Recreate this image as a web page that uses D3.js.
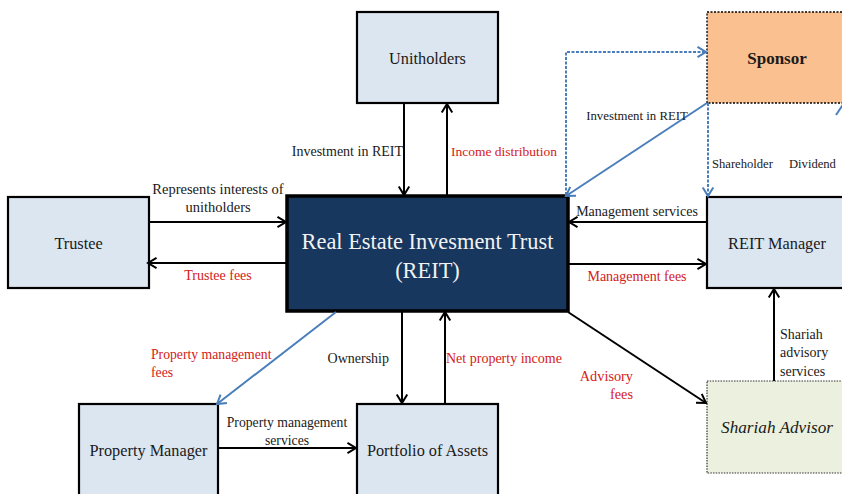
<!DOCTYPE html>
<html><head><meta charset="utf-8">
<script src="https://cdn.jsdelivr.net/npm/d3@7"></script>
<style>
html,body{margin:0;padding:0;background:#fff;overflow:hidden}
svg{display:block}
</style></head>
<body><svg id="c" width="842" height="494"></svg>
<script>
// ---- data ----
const nodeNames = ["Unitholders","Trustee","REIT","REIT Manager","Sponsor","Property Manager","Portfolio of Assets","Shariah Advisor"];
const nodeLabels = [["Unitholders"],["Trustee"],["Real Estate Invesment Trust","(REIT)"],["REIT Manager"],["Sponsor"],["Property Manager"],["Portfolio of Assets"],["Shariah Advisor"]];
const flowFrom = ["Unitholders","REIT","Trustee","REIT","REIT Manager","REIT","Property Manager","REIT","Portfolio of Assets","REIT","Shariah Advisor","REIT","Sponsor","Sponsor","Sponsor"];
const flowTo   = ["REIT","Unitholders","REIT","Trustee","REIT","REIT Manager","Portfolio of Assets","Portfolio of Assets","REIT","Property Manager","REIT Manager","Shariah Advisor","REIT","Sponsor","REIT Manager"];
const flowLabels = [
  ["Investment in REIT"],["Income distribution"],["Represents interests of","unitholders"],["Trustee fees"],
  ["Management services"],["Management fees"],["Property management","services"],["Ownership"],
  ["Net property income"],["Property management","fees"],["Shariah","advisory","services"],["Advisory","fees"],
  ["Investment in REIT"],[],["Shareholder"]
];
const flowIsFee = [false,true,false,true,false,true,false,false,true,true,false,true,false,false,false];
const extraLabels = ["Dividend"];

// ---- layout (grid scales) ----
const col = d3.scaleOrdinal().domain(nodeNames).range([357,8,287,707,707,79,357,707]);
const row = d3.scaleOrdinal().domain(nodeNames).range([12,197,196,197,12,404,404,381]);
const wid = d3.scaleOrdinal().domain(nodeNames).range([141,141,281,140,140,139,141,140]);
const hei = d3.scaleOrdinal().domain(nodeNames).range([91,91,115,91,91,100,100,92]);
const fills = d3.scaleOrdinal().domain(nodeNames).range(["#dce6f1","#dce6f1","#17375e","#dce6f1","#fac090","#dce6f1","#dce6f1","#ebf1de"]);

const FONT = "Liberation Serif";
const svg = d3.select("#c").attr("font-family",FONT);
const RED = "#d42020", INK = "#1a1a1a", BLUE = "#4a7ebb";

function box(n){return {x:col(n),y:row(n),w:wid(n),h:hei(n)};}

// nodes
nodeNames.forEach((n,i)=>{
  const b = box(n);
  const r = svg.append("rect").attr("x",b.x).attr("y",b.y).attr("width",b.w).attr("height",b.h)
    .attr("fill",fills(n)).attr("stroke","#000");
  if(n==="REIT") r.attr("stroke-width",3.5);
  else if(n==="Sponsor") r.attr("stroke-width",1.3).attr("stroke-dasharray","2,1.5");
  else if(n==="Shariah Advisor") r.attr("stroke-width",1.2).attr("stroke-dasharray","1.5,1.2").attr("stroke","#333");
  else r.attr("stroke-width",2.2);
  const lines = nodeLabels[i];
  const cx = b.x + b.w/2;
  if(n==="REIT"){
    lines.forEach((t,k)=>svg.append("text").attr("x",cx).attr("y",241+k*29).attr("text-anchor","middle")
      .attr("dominant-baseline","central").attr("font-family",FONT).attr("fill","#f2f2f2").attr("font-size",22.4).text(t));
  } else {
    const txt = svg.append("text").attr("x",cx).attr("y",b.y+46)
      .attr("text-anchor","middle").attr("dominant-baseline","central").attr("font-family",FONT).attr("fill",INK).attr("font-size",16.3).text(lines[0]);
    if(n==="Sponsor") txt.attr("font-weight","bold").attr("font-size",17);
    if(n==="Shariah Advisor") txt.attr("font-style","italic").attr("font-size",17.2);
  }
});

// arrow helper
function arrow(pts, color, dashed, width){
  const line = d3.line();
  const p = svg.append("path").attr("d",line(pts)).attr("fill","none").attr("stroke",color).attr("stroke-width",width||2);
  if(dashed) p.attr("stroke-dasharray","3,1.5");
  const a = pts[pts.length-1], b = pts[pts.length-2];
  const ang = Math.atan2(a[1]-b[1], a[0]-b[0]);
  const L = 10, s = 0.55;
  const h = [[a[0]-L*Math.cos(ang-s), a[1]-L*Math.sin(ang-s)], a, [a[0]-L*Math.cos(ang+s), a[1]-L*Math.sin(ang+s)]];
  svg.append("path").attr("d",line(h)).attr("fill","none").attr("stroke",color).attr("stroke-width",width||2);
}
function label(lines, x, y, anchor, color, dy, size){
  lines.forEach((t,k)=>svg.append("text").attr("x",x).attr("y",y+k*(dy||18)).attr("text-anchor",anchor)
    .attr("dominant-baseline","central").attr("font-family",FONT).attr("fill",color).attr("font-size",size||14).text(t));
}

const U=box("Unitholders"), T=box("Trustee"), R=box("REIT"), M=box("REIT Manager"), S=box("Sponsor"),
      P=box("Property Manager"), F=box("Portfolio of Assets"), A=box("Shariah Advisor");
const bot = b=>b.y+b.h, rgt = b=>b.x+b.w;

// geometry of each flow (index-aligned with flowFrom/flowTo)
const geo = [
  {pts:[[404,bot(U)],[404,R.y-1]], lx:403, ly:151, an:"end"},
  {pts:[[447,R.y-1],[447,bot(U)+1]], lx:451, ly:151, an:"start", sz:13.5},
  {pts:[[rgt(T),222],[R.x-1,222]], lx:218, ly:189, an:"middle", sz:14.5},
  {pts:[[R.x-1,263],[rgt(T)-1,263]], lx:218, ly:275, an:"middle"},
  {pts:[[M.x,222],[rgt(R)+1,222]], lx:637, ly:211, an:"middle"},
  {pts:[[rgt(R)+1,264],[M.x-1,264]], lx:637, ly:276, an:"middle"},
  {pts:[[rgt(P),448],[F.x-1,448]], lx:287, ly:422, an:"middle", sz:13.7},
  {pts:[[402,bot(R)+1],[402,F.y-1]], lx:389, ly:358, an:"end"},
  {pts:[[445,F.y],[445,bot(R)+1]], lx:446, ly:358, an:"start"},
  {pts:[[336,bot(R)+1],[P.x+P.w-1,P.y]], lx:151, ly:354, an:"start", blue:true, sz:13.7},
  {pts:[[774,A.y],[774,bot(M)+1]], lx:780, ly:334, an:"start"},
  {pts:[[rgt(R),bot(R)+1],[A.x-1,403]], lx:633, ly:376, an:"end", sz:14.3},
  {pts:[[S.x,bot(S)],[566,R.y]], lx:637, ly:116, an:"middle", blue:true, sz:12.8},
  {pts:[[566,R.y-1],[566,52],[S.x-1,52]], blue:true, dashed:true},
  {pts:[[708,bot(S)],[708,M.y-1]], lx:712, ly:164, an:"start", blue:true, dashed:true, sz:12.6}
];

flowFrom.forEach((f,i)=>{
  const g = geo[i];
  arrow(g.pts, g.blue?BLUE:"#000", g.dashed, 2);
  if(flowLabels[i].length) label(flowLabels[i], g.lx, g.ly, g.an, flowIsFee[i]?RED:INK, i===10?18.5:18, g.sz);
});
// dividend flow (REIT Manager -> Sponsor, mostly off-canvas)
svg.append("line").attr("x1",836).attr("y1",115).attr("x2",846).attr("y2",100).attr("stroke",BLUE).attr("stroke-width",2);
label(extraLabels, 789, 164, "start", INK, 18, 12.6);
</script></body></html>
